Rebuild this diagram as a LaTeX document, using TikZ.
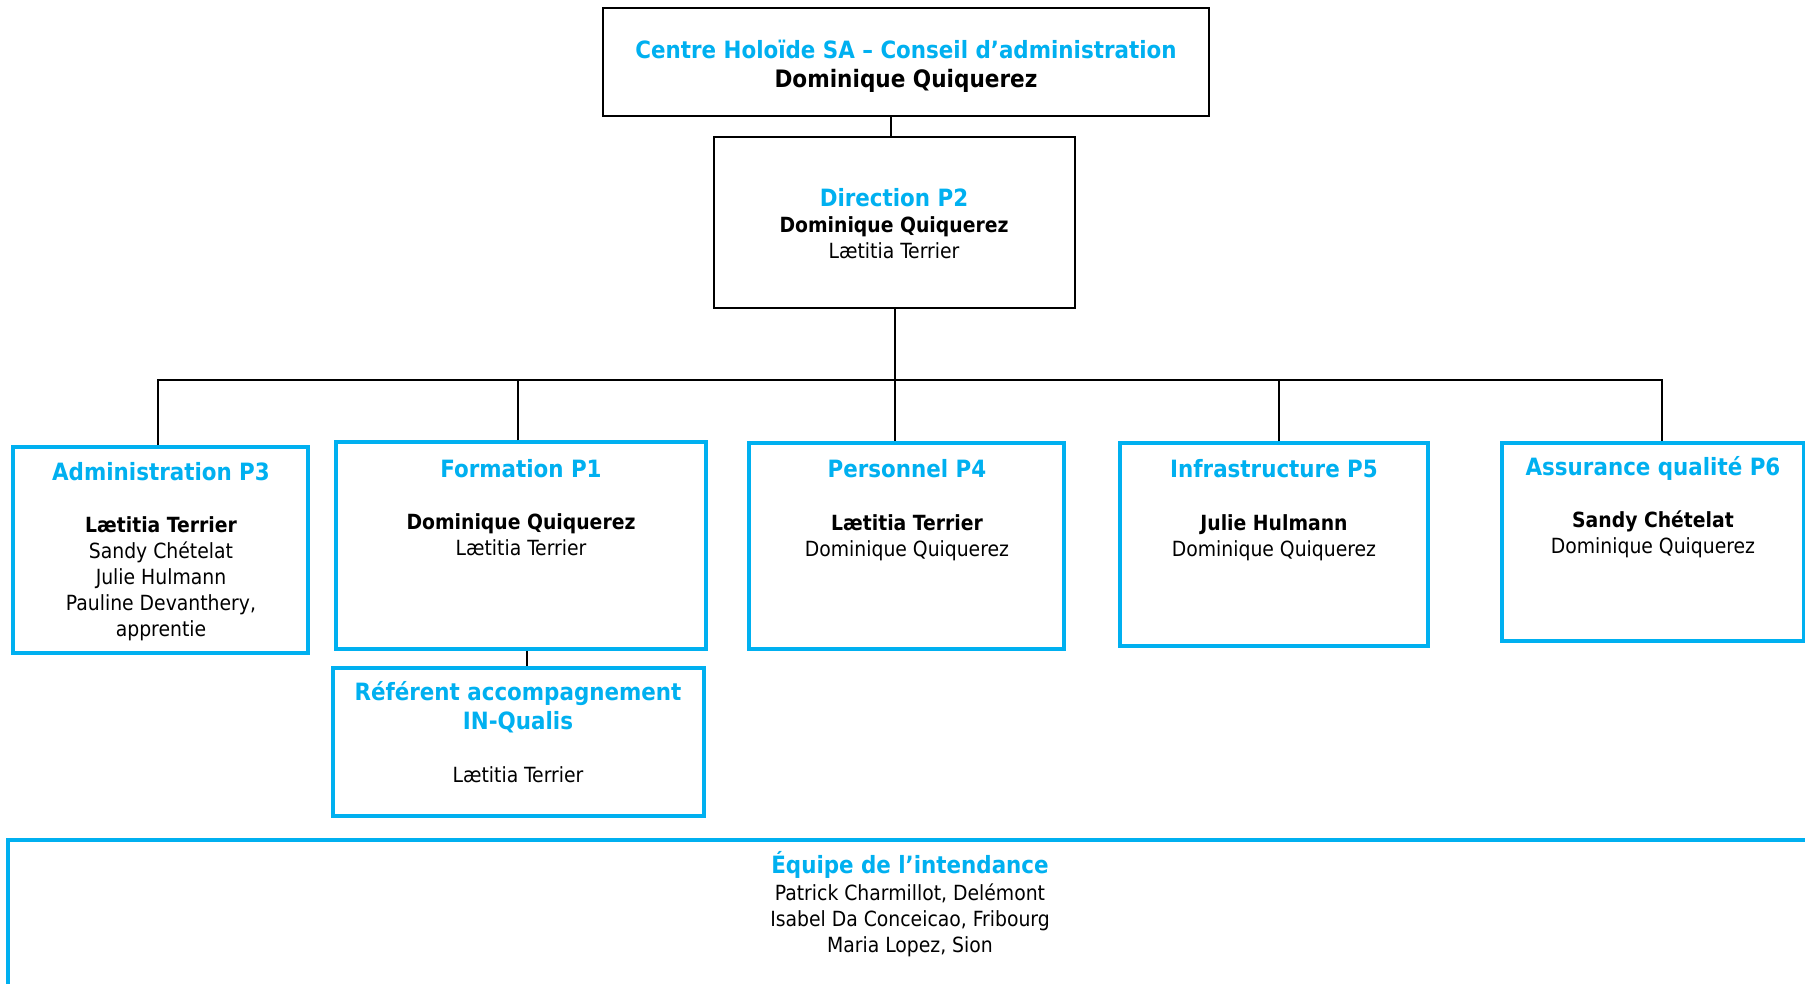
\documentclass[tikz,border=0pt]{standalone}
\usepackage{fontspec}
\setmainfont{DejaVu Sans Condensed}
\definecolor{hb}{RGB}{0,176,240}
\begin{document}
\begin{tikzpicture}[x=0.5pt,y=-0.5pt,
  blackbox/.style={draw=black, line width=1pt, rectangle, inner sep=0pt},
  bluebox/.style={draw=hb, line width=1.6pt, rectangle, inner sep=0pt},
  ttl/.style={text=hb, font=\bfseries\fontsize{11.9}{14.5}\selectfont, align=center, inner sep=0pt},
  bodytxt/.style={font=\fontsize{10.45}{13}\selectfont, align=center, inner sep=0pt},
  conn/.style={draw=black, line width=1pt}]
\path[use as bounding box] (0,0) rectangle (1805,984);
\fill[white] (0,0) rectangle (1805,984);
\clip (0,0) rectangle (1805,984);
% boxes
\node[blackbox, minimum width=303pt, minimum height=54pt] (cab) at (906,62) {};
\node[blackbox, minimum width=180.5pt, minimum height=85.5pt] (dir) at (894.5,222.5) {};
\node[bluebox, minimum width=147.5pt, minimum height=103pt] (p3) at (160.5,550) {};
\node[bluebox, minimum width=185pt, minimum height=103.5pt] (p1) at (521,545.5) {};
\node[bluebox, minimum width=157.5pt, minimum height=103pt] (p4) at (906.5,546) {};
\node[bluebox, minimum width=154pt, minimum height=101.5pt] (p5) at (1274,544.5) {};
\node[bluebox, minimum width=151pt, minimum height=99pt] (p6) at (1653,542) {};
\node[bluebox, minimum width=185.5pt, minimum height=74pt] (ref) at (518.5,742) {};
\node[bluebox, minimum width=916pt, minimum height=90pt] (eq) at (924,930) {};
% connectors
\coordinate (bus) at (894,380);
\draw[conn] ([xshift=-1.75pt]dir.north) -- ([xshift=-1.75pt]dir.north |- cab.south);
\draw[conn] (dir.south) -- (dir.south |- p4.north);
\draw[conn] ([xshift=-1.25pt]p3.north) |- ([xshift=4.5pt]p6.north |- bus) -- ([xshift=4.5pt]p6.north);
\draw[conn] ([xshift=-1.5pt]p1.north) -- ([xshift=-1.5pt]p1.north |- bus);
\draw[conn] ([xshift=2.5pt]p5.north) -- ([xshift=2.5pt]p5.north |- bus);
\draw[conn] ([xshift=3pt]p1.south) -- ([xshift=3pt]p1.south |- ref.north);
% texts
\node[ttl] (cabT) at (906,49) {Centre Holoïde SA – Conseil d’administration};
\node[bodytxt, font=\bfseries\fontsize{12}{14.5}\selectfont] (cabN) at (906,80.5) {Dominique Quiquerez};
\node[ttl] (dirT) at (894,198) {Direction P2};
\node[bodytxt] (dirN) at (894,238) {\textbf{Dominique Quiquerez}\\Lætitia Terrier};
\node[ttl] (p3T) at (161,472) {Administration P3};
\node[bodytxt] (p3N) at (161,579) {\textbf{Lætitia Terrier}\\Sandy Chételat\\Julie Hulmann\\Pauline Devanthery,\\apprentie};
\node[ttl] (p1T) at (521,468.5) {Formation P1};
\node[bodytxt] (p1N) at (521,535) {\textbf{Dominique Quiquerez}\\Lætitia Terrier};
\node[ttl] (p4T) at (907,468.5) {Personnel P4};
\node[bodytxt] (p4N) at (907,538) {\textbf{Lætitia Terrier}\\Dominique Quiquerez};
\node[ttl] (p5T) at (1274,468.5) {Infrastructure P5};
\node[bodytxt] (p5N) at (1274,538) {\textbf{Julie Hulmann}\\Dominique Quiquerez};
\node[ttl] (p6T) at (1653,468.5) {Assurance qualité P6};
\node[bodytxt] (p6N) at (1653,534.5) {\textbf{Sandy Chételat}\\Dominique Quiquerez};
\node[ttl] (refT) at (518,707.5) {Référent accompagnement\\IN-Qualis};
\node[bodytxt] (refN) at (518,775) {Lætitia Terrier};
\node[ttl] (eqT) at (910,864.5) {Équipe de l’intendance};
\node[bodytxt] (eqN) at (910,920.5) {Patrick Charmillot, Delémont\\Isabel Da Conceicao, Fribourg\\Maria Lopez, Sion};
\end{tikzpicture}
\end{document}
